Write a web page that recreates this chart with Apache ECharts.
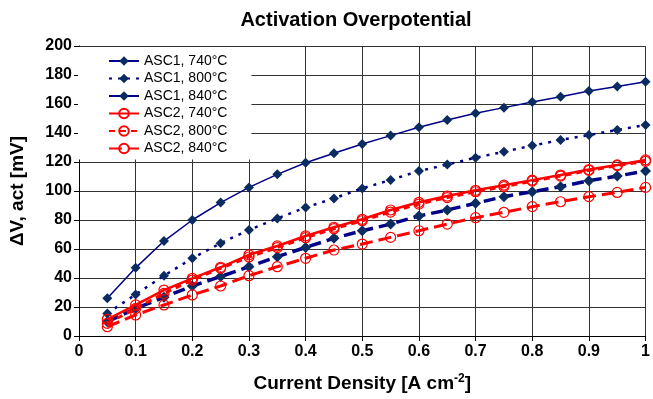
<!DOCTYPE html>
<html><head><meta charset="utf-8">
<script src="https://cdn.jsdelivr.net/npm/echarts@6/dist/echarts.min.js"></script>
<style>html,body{margin:0;padding:0;background:#fff}#c{width:653px;height:399px}</style>
</head><body><div id="c"></div>
<script>
var currentDensity = [0.05,0.1,0.15,0.2,0.25,0.3,0.35,0.4,0.45,0.5,0.55,0.6,0.65,0.7,0.75,0.8,0.85,0.9,0.95,1.0];
var asc1_740 = [26,47,65.5,80,92,102.5,111.5,119.5,126,132.4,138.2,144,149,153.6,157.5,161.4,165,169,172,175.4];
var asc1_800 = [15.6,28.7,41.6,53.6,64,73.1,81.1,88.7,94.9,101.8,107.6,113.8,118.2,123,127.1,131.3,135.2,138.6,142.1,145.5];
var asc1_840 = [9.9,19,26.7,34.5,41,47.8,54.7,61.1,67.4,72.6,77.2,82.8,86.9,91.5,96.1,99.5,103,107.1,110.3,113.8];
var asc2_740 = [11.5,21.4,31.7,39.8,47.4,56,62.1,69,75,80.5,86.9,92.2,96.5,100.5,104,107.5,111,114.8,118,121.4];
var asc2_800 = [8.7,19,29.4,38.6,46.7,54.5,61,67.8,74,79.5,85.5,91,95.5,99.5,103,106.8,110.3,114.2,117.5,120.5];
var asc2_840 = [6.4,14.5,21.4,28.3,34.5,41.6,47.8,53.6,59.3,63.4,68,72.6,77.2,81.6,85.3,89.2,92.6,96.1,99,102.5];
var seriesNames = ['ASC1, 740°C','ASC1, 800°C','ASC1, 840°C','ASC2, 740°C','ASC2, 800°C','ASC2, 840°C'];
var xTicks = ['0','0.1','0.2','0.3','0.4','0.5','0.6','0.7','0.8','0.9','1'];

function pairs(ys){ return currentDensity.map(function(x,i){ return [x, ys[i]]; }); }
var NAVY = '#000088', NAVYM = '#0b2c60', RED = '#ff0000';
function s1(name, ys, lineW, dash, size){
  return {name:name,type:'line',data:pairs(ys),symbol:'diamond',symbolSize:size,
    lineStyle:{color:NAVY,width:lineW,type:dash},itemStyle:{color:NAVYM},z:3};
}
function s2(name, ys, lineW, dash){
  return {name:name,type:'line',data:pairs(ys),symbol:'circle',symbolSize:10,
    lineStyle:{color:RED,width:lineW,type:dash},
    itemStyle:{color:'rgba(255,255,255,0)',borderColor:RED,borderWidth:1.2},z:4};
}
var font = 'Arial, "Liberation Sans", sans-serif';
var chart = echarts.init(document.getElementById('c'));
chart.setOption({
  animation:false,
  backgroundColor:'#fff',
  title:{text:'Activation Overpotential',left:351,textAlign:'center',top:5,
    textStyle:{fontFamily:font,fontWeight:'bold',fontSize:20,color:'#000'}},
  grid:{left:78,right:1,top:46,bottom:63},
  legend:{left:78,top:47,orient:'vertical',backgroundColor:'#fff',
    padding:[7,24,4,30],itemWidth:30,itemHeight:12,itemGap:3.5,
    textStyle:{fontFamily:font,fontSize:14,color:'#000'},data:seriesNames},
  xAxis:{type:'value',min:0,max:1,interval:0.1,
    name:'Current Density [A cm{sup|-2}]',nameLocation:'middle',nameGap:37,
    nameTextStyle:{fontFamily:font,fontWeight:'bold',fontSize:19,color:'#000',
      rich:{sup:{fontFamily:font,fontWeight:'bold',fontSize:12,verticalAlign:'top',padding:[0,0,9,0]}}},
    axisLine:{show:true,onZero:false,lineStyle:{color:'#000',width:1}},
    axisTick:{show:true,length:5,lineStyle:{color:'#000'}},
    splitLine:{show:true,lineStyle:{color:'#333',width:1}},
    axisLabel:{fontFamily:font,fontWeight:'bold',fontSize:16,color:'#000',margin:8,
      formatter:function(v){ return xTicks[Math.round(v*10)]; }}},
  yAxis:{type:'value',min:0,max:200,interval:20,
    name:'ΔV, act [mV]',nameLocation:'middle',nameGap:52,
    nameTextStyle:{fontFamily:font,fontWeight:'bold',fontSize:19,color:'#000'},
    axisLine:{show:true,lineStyle:{color:'#000',width:1}},
    axisTick:{show:true,length:5,lineStyle:{color:'#000'}},
    splitLine:{show:true,lineStyle:{color:'#333',width:1}},
    axisLabel:{fontFamily:font,fontWeight:'bold',fontSize:16,color:'#000',margin:7}},
  series:[
    s1(seriesNames[0],asc1_740,1.5,'solid',10),
    s1(seriesNames[1],asc1_800,2.5,[3,6],10),
    s1(seriesNames[2],asc1_840,3.5,[12,6],11),
    s2(seriesNames[3],asc2_740,2.5,'solid'),
    s2(seriesNames[4],asc2_800,3,[6,5]),
    s2(seriesNames[5],asc2_840,3,[13,6])
  ]
});
</script></body></html>
